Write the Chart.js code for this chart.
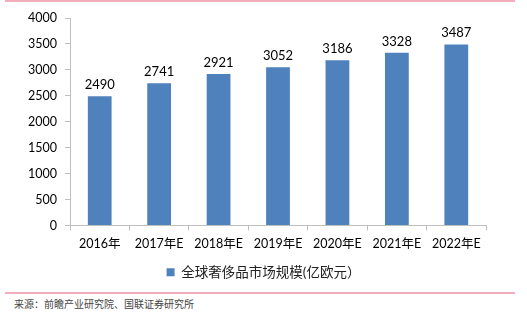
<!DOCTYPE html>
<html>
<head>
<meta charset="utf-8">
<script src="https://cdn.jsdelivr.net/npm/chart.js@4.4.1/dist/chart.umd.min.js"></script>
<style>
  html, body { margin: 0; padding: 0; background: #fff; }
  #page { position: relative; width: 527px; height: 332px; overflow: hidden; }
  #box { position: absolute; left: 0; top: 0; width: 527px; height: 289px; }
  .rule { position: absolute; left: 5px; width: 510px; height: 2px; background: #f2aebd; }
  #source { position: absolute; left: 14px; top: 296px; font: 10px "Noto Sans CJK SC", sans-serif; color: #444; }
</style>
</head>
<body>
<div id="page">
  <div class="rule" style="top:0px"></div>
  <div id="box"><canvas id="marketChart"></canvas></div>
  <div class="rule" style="top:292px"></div>
  <div id="source">来源：前瞻产业研究院、国联证券研究所</div>
</div>
<script>
const years = ['2016年', '2017年E', '2018年E', '2019年E', '2020年E', '2021年E', '2022年E'];
const marketSize = [2490, 2741, 2921, 3052, 3186, 3328, 3487];
const seriesName = '全球奢侈品市场规模(亿欧元）';

const FONT = 'Lato, "Noto Sans CJK SC", sans-serif';

// value labels above each bar
const barValues = {
    id: 'barValues',
    afterDatasetsDraw(chart) {
        const ctx = chart.ctx;
        const meta = chart.getDatasetMeta(0);
        ctx.save();
        ctx.font = '13px ' + FONT;
        ctx.fillStyle = '#000';
        ctx.textAlign = 'center';
        ctx.textBaseline = 'bottom';
        meta.data.forEach((bar, i) => {
            ctx.fillText(String(marketSize[i]), bar.x, bar.y - 5);
        });
        ctx.restore();
    }
};

const ctx = document.getElementById('marketChart').getContext('2d');
new Chart(ctx, {
    type: 'bar',
    data: {
        labels: years,
        datasets: [{
            label: seriesName,
            data: marketSize,
            backgroundColor: '#4f81bd',
            barPercentage: 0.4,
            categoryPercentage: 1.0
        }]
    },
    options: {
        responsive: true,
        maintainAspectRatio: false,
        animation: false,
        layout: { padding: { top: 18, right: 0, left: 0, bottom: 0 } },
        scales: {
            x: {
                grid: { drawOnChartArea: false, drawTicks: true, tickLength: 5, color: '#bfbfbf' },
                border: { color: '#bfbfbf' },
                ticks: { color: '#000', font: { family: FONT, size: 12.5 }, padding: 6, maxRotation: 0 }
            },
            y: {
                min: 0,
                max: 4000,
                afterFit(scale) { scale.width = 70; },
                grid: { drawOnChartArea: false, drawTicks: true, tickLength: 5, color: '#bfbfbf' },
                border: { color: '#bfbfbf' },
                ticks: {
                    stepSize: 500,
                    color: '#000',
                    font: { family: FONT, size: 12.5 },
                    padding: 8,
                    callback: v => String(v)
                }
            },
            // empty margin on the right side of the plot
            yRight: {
                position: 'right',
                afterFit(scale) { scale.width = 41; },
                grid: { display: false },
                border: { display: false },
                ticks: { display: false }
            }
        },
        plugins: {
            legend: {
                position: 'bottom',
                labels: {
                    boxWidth: 8,
                    boxHeight: 8,
                    color: '#222',
                    font: { family: FONT, size: 13.5 },
                    padding: 8
                }
            },
            tooltip: { enabled: false }
        }
    },
    plugins: [barValues]
});
</script>
</body>
</html>
